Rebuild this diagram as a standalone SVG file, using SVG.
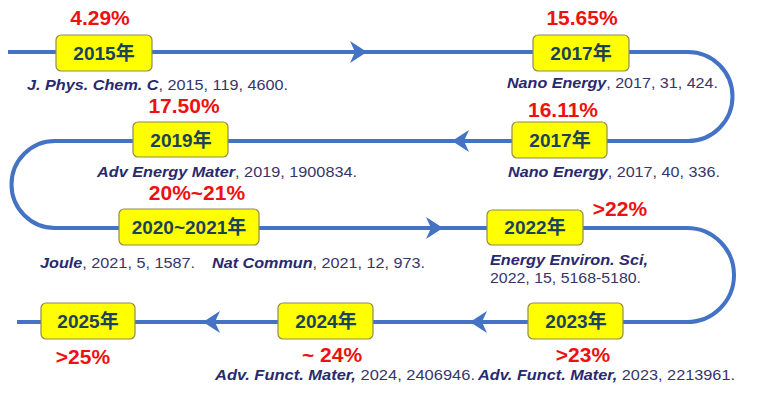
<svg xmlns="http://www.w3.org/2000/svg" width="781" height="397" viewBox="0 0 781 397">
<style>
.box{fill:#FFFF00;stroke:#8C8C55;stroke-width:1.2}
.yr{font-family:"Liberation Sans","Noto Sans CJK SC",sans-serif;font-weight:bold;font-size:19px;fill:#1A4258;text-anchor:middle}
.pct{font-family:"Liberation Sans",sans-serif;font-weight:bold;font-size:21px;fill:#EE1111;text-anchor:middle}
.cit{font-family:"Liberation Sans",sans-serif;font-size:15px;fill:#35356A}
.j{font-weight:bold;font-style:italic;fill:#29296F}
.line{fill:none;stroke:#4472C4;stroke-width:4}
.ah{fill:#4472C4}
</style>
<defs>
<path id="arr" d="M0 0 L-17 -11 L-12 0 L-17 11 Z"/>
</defs>
<g id="connectors">
<path class="line" d="M8 52 H688 A44.5 44.5 0 0 1 688 141 H55 A43.5 43.5 0 0 0 55 228 H687 A47 47 0 0 1 687 322 H17"/>
<use href="#arr" class="ah" transform="translate(367,52)"/>
<use href="#arr" class="ah" transform="translate(452,141) rotate(180)"/>
<use href="#arr" class="ah" transform="translate(443,228)"/>
<use href="#arr" class="ah" transform="translate(470,322) rotate(180)"/>
<use href="#arr" class="ah" transform="translate(203,322) rotate(180)"/>
</g>
<g id="n2015">
<rect class="box" x="56" y="35" width="96" height="36" rx="5"/>
<text class="yr" x="104" y="60">2015年</text>
<text class="pct" x="100" y="25">4.29%</text>
<text class="cit" x="27" y="90" textLength="261" lengthAdjust="spacingAndGlyphs"><tspan class="j">J. Phys. Chem. C</tspan>, 2015, 119, 4600.</text>
</g>
<g id="n2017a">
<rect class="box" x="533" y="35" width="96" height="36" rx="5"/>
<text class="yr" x="581" y="60">2017年</text>
<text class="pct" x="582" y="25">15.65%</text>
<text class="cit" x="507" y="88" textLength="211" lengthAdjust="spacingAndGlyphs"><tspan class="j">Nano Energy</tspan>, 2017, 31, 424.</text>
</g>
<g id="n2017b">
<rect class="box" x="512" y="122" width="95" height="36" rx="5"/>
<text class="yr" x="560" y="147">2017年</text>
<text class="pct" x="563" y="117">16.11%</text>
<text class="cit" x="508" y="177" textLength="212" lengthAdjust="spacingAndGlyphs"><tspan class="j">Nano Energy</tspan>, 2017, 40, 336.</text>
</g>
<g id="n2019">
<rect class="box" x="133" y="122" width="95" height="35" rx="5"/>
<text class="yr" x="181" y="147">2019年</text>
<text class="pct" x="184" y="113">17.50%</text>
<text class="cit" x="97" y="177" textLength="260" lengthAdjust="spacingAndGlyphs"><tspan class="j">Adv Energy Mater</tspan>, 2019, 1900834.</text>
</g>
<g id="n2020">
<rect class="box" x="119" y="209" width="140" height="36" rx="5"/>
<text class="yr" x="189" y="234">2020~2021年</text>
<text class="pct" x="197" y="200">20%~21%</text>
<text class="cit" x="40" y="268" textLength="155" lengthAdjust="spacingAndGlyphs"><tspan class="j">Joule</tspan>, 2021, 5, 1587.</text>
<text class="cit" x="212" y="268" textLength="213" lengthAdjust="spacingAndGlyphs"><tspan class="j">Nat Commun</tspan>, 2021, 12, 973.</text>
</g>
<g id="n2022">
<rect class="box" x="487" y="210" width="96" height="35" rx="5"/>
<text class="yr" x="535" y="234">2022年</text>
<text class="pct" x="620" y="216">&gt;22%</text>
<text class="cit j" x="490" y="265" textLength="158" lengthAdjust="spacingAndGlyphs">Energy Environ. Sci,</text>
<text class="cit" x="490" y="283" textLength="151" lengthAdjust="spacingAndGlyphs">2022, 15, 5168-5180.</text>
</g>
<g id="n2023">
<rect class="box" x="528" y="303" width="95" height="36" rx="5"/>
<text class="yr" x="576" y="328">2023年</text>
<text class="pct" x="583" y="362">&gt;23%</text>
<text class="cit" x="478" y="380" textLength="257" lengthAdjust="spacingAndGlyphs"><tspan class="j">Adv. Funct. Mater,</tspan> 2023, 2213961.</text>
</g>
<g id="n2024">
<rect class="box" x="278" y="303" width="95" height="36" rx="5"/>
<text class="yr" x="326" y="328">2024年</text>
<text class="pct" x="332" y="362">~ 24%</text>
<text class="cit" x="215" y="380" textLength="260" lengthAdjust="spacingAndGlyphs"><tspan class="j">Adv. Funct. Mater,</tspan> 2024, 2406946.</text>
</g>
<g id="n2025">
<rect class="box" x="41" y="303" width="94" height="36" rx="5"/>
<text class="yr" x="88" y="328">2025年</text>
<text class="pct" x="83" y="364">&gt;25%</text>
</g>
</svg>
